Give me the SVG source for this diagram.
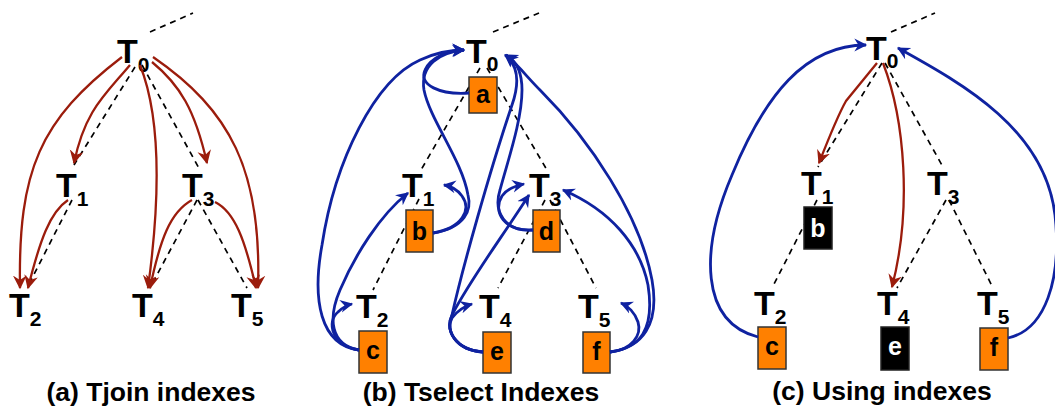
<svg xmlns="http://www.w3.org/2000/svg" width="1055" height="408" viewBox="0 0 1055 408">
<defs>
<style>
.t{font-family:"Liberation Sans",Arial,sans-serif;font-weight:bold;font-size:34px;fill:#000}
.s{font-size:21px}
.cap{font-family:"Liberation Sans",Arial,sans-serif;font-weight:bold;font-size:26.5px;fill:#000;text-anchor:middle}
.bx{fill:#ff8000;stroke:#333;stroke-width:1.5}
.bk{fill:#000;stroke:#222;stroke-width:1.5}
.bl{font-family:"Liberation Sans",Arial,sans-serif;font-weight:bold;font-size:25px;fill:#000;text-anchor:middle}
.wl{font-family:"Liberation Sans",Arial,sans-serif;font-weight:bold;font-size:25px;fill:#fff;text-anchor:middle}
.d{fill:none;stroke:#000;stroke-width:1.7;stroke-dasharray:6,5}
.r{fill:none;stroke:#9b1c0c;stroke-width:2.3;marker-end:url(#ar)}
.b{fill:none;stroke:#0f22a0;stroke-width:2.8;marker-end:url(#ab)}
</style>
<marker id="ar" viewBox="0 0 12 12" refX="10" refY="6" markerWidth="15" markerHeight="15" markerUnits="userSpaceOnUse" orient="auto"><path d="M0,0.5 L11,6 L0,11.5 L3.5,6 z" fill="#9b1c0c"/></marker>
<marker id="ab" viewBox="0 0 12 12" refX="10" refY="6" markerWidth="14" markerHeight="14" markerUnits="userSpaceOnUse" orient="auto"><path d="M0,0.5 L11,6 L0,11.5 L3.5,6 z" fill="#0f22a0"/></marker>
</defs>
<rect width="1055" height="408" fill="#fff"/>

<g id="tree-edges">
<path class="d" d="M150,32 L193,13 M135,67 L74,165 M72,200 L27,288 M142,65 L200,170 M197,200 L150,288 M198,200 L247,288"/>
<path class="d" d="M493,32 L539,13 M480,68 L421,170 M419,199 L373,290 M487,68 L547,170 M545,200 L498,288 M550,200 L596,288"/>
<path class="d" d="M891,32 L935,13 M882,63 L818,167 M817,200 L772,288 M885,63 L943,167 M946,200 L897,288 M949,200 L993,288"/>
</g>

<g id="panel-a-nodes">
<g id="a-T0"><text class="t" x="117" y="63">T<tspan class="s" dy="9">0</tspan></text></g>
<g id="a-T1"><text class="t" x="56" y="197">T<tspan class="s" dy="9">1</tspan></text></g>
<g id="a-T2"><text class="t" x="9" y="317">T<tspan class="s" dy="9">2</tspan></text></g>
<g id="a-T3"><text class="t" x="182" y="197">T<tspan class="s" dy="9">3</tspan></text></g>
<g id="a-T4"><text class="t" x="132" y="317">T<tspan class="s" dy="9">4</tspan></text></g>
<g id="a-T5"><text class="t" x="231" y="317">T<tspan class="s" dy="9">5</tspan></text></g>
</g>

<g id="panel-b-nodes">
<g id="b-T0"><text class="t" x="466" y="63">T<tspan class="s" dy="8">0</tspan></text></g>
<g id="b-T1"><text class="t" x="402" y="197">T<tspan class="s" dy="9">1</tspan></text></g>
<g id="b-T2"><text class="t" x="356" y="318">T<tspan class="s" dy="9">2</tspan></text></g>
<g id="b-T3"><text class="t" x="529" y="197">T<tspan class="s" dy="9">3</tspan></text></g>
<g id="b-T4"><text class="t" x="479" y="318">T<tspan class="s" dy="9">4</tspan></text></g>
<g id="b-T5"><text class="t" x="578" y="318">T<tspan class="s" dy="9">5</tspan></text></g>
<g id="b-a"><rect class="bx" x="469" y="77" width="28" height="36"/><text class="bl" x="483" y="103">a</text></g>
<g id="b-b"><rect class="bx" x="406" y="210" width="27" height="42"/><text class="bl" x="419.5" y="240">b</text></g>
<g id="b-c"><rect class="bx" x="359" y="331" width="28" height="42"/><text class="bl" x="373" y="359">c</text></g>
<g id="b-d"><rect class="bx" x="533" y="210" width="27" height="42"/><text class="bl" x="546.5" y="240">d</text></g>
<g id="b-e"><rect class="bx" x="483" y="332" width="28" height="41"/><text class="bl" x="497" y="360">e</text></g>
<g id="b-f"><rect class="bx" x="583" y="332" width="27" height="41"/><text class="bl" x="596.5" y="360">f</text></g>
</g>

<g id="panel-c-nodes">
<g id="c-T0"><text class="t" x="866" y="60">T<tspan class="s" dy="8">0</tspan></text></g>
<g id="c-T1"><text class="t" x="801" y="195">T<tspan class="s" dy="9">1</tspan></text></g>
<g id="c-T2"><text class="t" x="754" y="315">T<tspan class="s" dy="9">2</tspan></text></g>
<g id="c-T3"><text class="t" x="927" y="195">T<tspan class="s" dy="9">3</tspan></text></g>
<g id="c-T4"><text class="t" x="877" y="315">T<tspan class="s" dy="9">4</tspan></text></g>
<g id="c-T5"><text class="t" x="977" y="315">T<tspan class="s" dy="9">5</tspan></text></g>
<g id="c-b"><rect class="bk" x="804" y="207" width="28" height="42"/><text class="wl" x="818" y="237">b</text></g>
<g id="c-c"><rect class="bx" x="758" y="327" width="28" height="42"/><text class="bl" x="772" y="355">c</text></g>
<g id="c-e"><rect class="bk" x="881" y="327" width="28" height="43"/><text class="wl" x="895" y="355">e</text></g>
<g id="c-f"><rect class="bx" x="980" y="328" width="28" height="42"/><text class="bl" x="994" y="356">f</text></g>
</g>

<g id="connectors">
<path class="r" d="M122,57 C40,120 18,170 20,288"/>
<path class="r" d="M130,65 C105,95 85,110 74,163"/>
<path class="r" d="M68,200 C50,212 40,240 28,288"/>
<path class="r" d="M140,65 C162,120 160,200 148,288"/>
<path class="r" d="M152,62 C180,85 195,110 207,163"/>
<path class="r" d="M153,57 C230,110 262,170 258,288"/>
<path class="r" d="M192,200 C170,212 160,240 150,288"/>
<path class="r" d="M215,202 C235,212 245,240 256,288"/>

<path class="b" d="M469,93 C440,95 418,85 425,70 C430,58 448,50 464,50"/>
<path class="b" d="M433,233 C462,228 472,210 462,196 C457,189 450,186 444,185"/>
<path class="b" d="M433,233 C465,228 472,210 468,195 C462,160 430,120 424,90 C420,65 440,52 464,50"/>
<path class="b" d="M359,350 C320,345 312,300 322,245 C335,160 375,80 420,60 C435,53 450,50 464,50"/>
<path class="b" d="M359,350 C330,345 328,318 340,290 C355,255 380,215 408,193"/>
<path class="b" d="M359,350 C332,346 326,322 338,312 C342,308 347,305 352,304"/>
<path class="b" d="M483,352 C455,350 445,330 452,318 C458,310 465,306 472,304"/>
<path class="b" d="M483,352 C455,350 445,330 452,315 C470,280 500,240 529,195"/>
<path class="b" d="M483,352 C455,350 445,330 452,315 C462,270 490,170 512,105 C520,82 518,65 505,55"/>
<path class="b" d="M533,230 C505,232 492,212 502,196 C507,189 514,186 524,184"/>
<path class="b" d="M533,230 C505,232 493,212 500,190 C508,160 522,120 522,90 C522,70 515,60 506,55"/>
<path class="b" d="M610,352 C632,350 642,335 638,322 C635,313 628,306 621,303"/>
<path class="b" d="M610,352 C640,348 655,330 648,285 C640,245 610,210 563,190"/>
<path class="b" d="M610,352 C642,348 660,325 652,280 C640,215 590,140 540,90 C528,78 518,65 506,55"/>

<path class="r" d="M877,63 L846,101 C838,115 828,140 819,163"/>
<path class="r" d="M883,63 C905,120 912,210 892,287"/>
<path class="b" d="M758,337 C700,322 700,250 732,175 C765,95 805,45 866,45"/>
<path class="b" d="M1008,338 C1045,330 1062,280 1055,215 C1045,130 965,85 898,48"/>
</g>

<g id="captions">
<text class="cap" x="151" y="401">(a) Tjoin indexes</text>
<text class="cap" x="481" y="401">(b) Tselect Indexes</text>
<text class="cap" x="882" y="400">(c) Using indexes</text>
</g>
</svg>
